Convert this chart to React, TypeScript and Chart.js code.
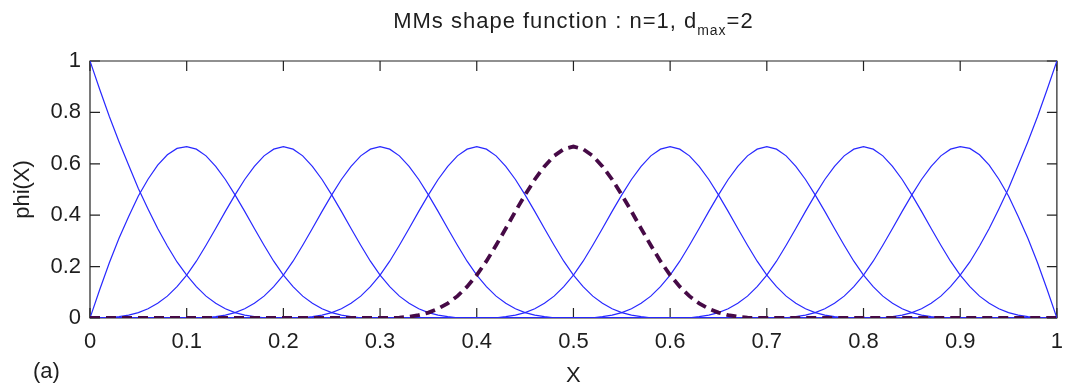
import { useEffect, useRef } from 'react';
import { Chart, registerables } from 'chart.js';

Chart.register(...registerables);

// Sample positions along X (step 0.01)
const xGrid = [
  0.0, 0.01, 0.02, 0.03, 0.04, 0.05, 0.06, 0.07, 0.08, 0.09,
  0.1, 0.11, 0.12, 0.13, 0.14, 0.15, 0.16, 0.17, 0.18, 0.19,
  0.2, 0.21, 0.22, 0.23, 0.24, 0.25, 0.26, 0.27, 0.28, 0.29,
  0.3, 0.31, 0.32, 0.33, 0.34, 0.35, 0.36, 0.37, 0.38, 0.39,
  0.4, 0.41, 0.42, 0.43, 0.44, 0.45, 0.46, 0.47, 0.48, 0.49,
  0.5, 0.51, 0.52, 0.53, 0.54, 0.55, 0.56, 0.57, 0.58, 0.59,
  0.6, 0.61, 0.62, 0.63, 0.64, 0.65, 0.66, 0.67, 0.68, 0.69,
  0.7, 0.71, 0.72, 0.73, 0.74, 0.75, 0.76, 0.77, 0.78, 0.79,
  0.8, 0.81, 0.82, 0.83, 0.84, 0.85, 0.86, 0.87, 0.88, 0.89,
  0.9, 0.91, 0.92, 0.93, 0.94, 0.95, 0.96, 0.97, 0.98, 0.99,
  1.0,
];

// Interior nodes (the one at 0.5 is drawn dashed)
const nodes = [0.1, 0.2, 0.3, 0.4, 0.5, 0.6, 0.7, 0.8, 0.9];
const dashedNode = 0.5;

// Shape, offsets -0.20 .. +0.20 from its node
const interiorProfile = [
  0, 0, 0.001, 0.005, 0.011, 0.021, 0.036, 0.057, 0.085, 0.122,
  0.167, 0.221, 0.283, 0.348, 0.415, 0.479, 0.539, 0.59, 0.631, 0.657,
  0.667,
  0.657, 0.631, 0.59, 0.539, 0.479, 0.415, 0.348, 0.283, 0.221, 0.167,
  0.122, 0.085, 0.057, 0.036, 0.021, 0.011, 0.005, 0.001, 0, 0,
];

// Outer half of the curve next to an edge, from the edge (X=0) to its node (X=0.1)
const edgeNeighbourOuter = [0, 0.11, 0.215, 0.31, 0.395, 0.475, 0.54, 0.595, 0.635, 0.66, 0.667];

// Edge curve, from the edge (X=0) inward to X=0.2
const edgeCurve = [
  1, 0.89, 0.784, 0.686, 0.594, 0.504, 0.424, 0.348, 0.28, 0.218,
  0.167, 0.122, 0.085, 0.057, 0.036, 0.021, 0.011, 0.005, 0.001, 0, 0,
];

const xTicks = [0, 0.1, 0.2, 0.3, 0.4, 0.5, 0.6, 0.7, 0.8, 0.9, 1];
const yTicks = [0, 0.2, 0.4, 0.6, 0.8, 1];

const titleMain = 'MMs shape function : n=1, d';
const titleSub = 'max';
const titleTail = '=2';
const panelLabel = '(a)';
const xLabel = 'X';
const yLabel = 'phi(X)';

const FONT = '"Liberation Sans", Arial, Helvetica, sans-serif';
const TEXT = '#1e1e1e';
const BLUE = 'rgb(40,40,255)';
const PURPLE = '#460a46';

function nodeCurve(node: number) {
  const c = Math.round(node * 100);
  return xGrid.map((x, i) => {
    let y = 0;
    const k = i - c;
    if (Math.abs(k) <= 20) y = interiorProfile[k + 20];
    if (c === 10 && i <= 10) y = edgeNeighbourOuter[i];
    if (c === 90 && i >= 90) y = edgeNeighbourOuter[100 - i];
    return { x, y };
  });
}

function edge(left: boolean) {
  return xGrid.map((x, i) => {
    const j = left ? i : 100 - i;
    return { x, y: j <= 20 ? edgeCurve[j] : 0 };
  });
}

const fmt = (v: number) => String(Number(v.toFixed(1)));

const framePlugin = {
  id: 'matlabFrame',
  beforeDatasetsDraw(chart: any) {
    const { ctx, chartArea: a, scales } = chart;
    const tl = 10;
    ctx.save();
    ctx.strokeStyle = '#222';
    ctx.lineWidth = 1.2;
    ctx.beginPath();
    ctx.rect(a.left, a.top, a.right - a.left, a.bottom - a.top);
    ctx.stroke();
    ctx.beginPath();
    for (const v of xTicks) {
      const px = scales.x.getPixelForValue(v);
      ctx.moveTo(px, a.bottom);
      ctx.lineTo(px, a.bottom - tl);
      ctx.moveTo(px, a.top);
      ctx.lineTo(px, a.top + tl);
    }
    for (const v of yTicks) {
      const py = scales.y.getPixelForValue(v);
      ctx.moveTo(a.left, py);
      ctx.lineTo(a.left + tl, py);
      ctx.moveTo(a.right, py);
      ctx.lineTo(a.right - tl, py);
    }
    ctx.stroke();
    ctx.restore();
  },
  afterDraw(chart: any) {
    const { ctx, chartArea: a } = chart;
    ctx.save();
    ctx.fillStyle = TEXT;
    ctx.textBaseline = 'alphabetic';
    ctx.textAlign = 'left';
    const mainFont = `22px ${FONT}`;
    const subFont = `14px ${FONT}`;
    const spacing = '1px';
    ctx.letterSpacing = spacing;
    ctx.font = mainFont;
    const w1 = ctx.measureText(titleMain).width;
    const w3 = ctx.measureText(titleTail).width;
    ctx.font = subFont;
    const w2 = ctx.measureText(titleSub).width;
    const total = w1 + w2 + w3;
    const cx = (a.left + a.right) / 2;
    let x = cx - total / 2;
    const base = 28;
    ctx.font = mainFont;
    ctx.fillText(titleMain, x, base);
    x += w1;
    ctx.font = subFont;
    ctx.fillText(titleSub, x, base + 7);
    x += w2;
    ctx.font = mainFont;
    ctx.fillText(titleTail, x, base);
    ctx.letterSpacing = '0px';
    ctx.font = `22px ${FONT}`;
    ctx.textBaseline = 'middle';
    ctx.fillText(panelLabel, 33, 372);
    ctx.restore();
  },
};

export default function App() {
  const ref = useRef<HTMLCanvasElement>(null);
  useEffect(() => {
    const canvas = ref.current!;
    const datasets: any[] = [];
    datasets.push({
      data: nodeCurve(dashedNode),
      borderColor: PURPLE,
      borderWidth: 3.8,
      borderDash: [10, 6],
      pointRadius: 0,
      tension: 0,
      order: 0,
    });
    const solid = { borderColor: BLUE, borderWidth: 1.2, pointRadius: 0, order: 1 };
    datasets.push({ ...solid, data: edge(true) });
    for (const n of nodes) {
      if (n === dashedNode) continue;
      datasets.push({ ...solid, data: nodeCurve(n) });
    }
    datasets.push({ ...solid, data: edge(false) });

    const chart = new Chart(canvas, {
      type: 'line',
      data: { datasets },
      options: {
        responsive: false,
        animation: false,
        events: [],
        layout: { padding: { left: 0, right: 7, top: 61, bottom: 0 } },
        plugins: {
          legend: { display: false },
          tooltip: { enabled: false },
          title: { display: false },
        },
        scales: {
          x: {
            type: 'linear',
            min: 0,
            max: 1,
            afterBuildTicks: (s: any) => {
              s.ticks = xTicks.map((v) => ({ value: v }));
            },
            afterFit: (s: any) => {
              s.height = 69;
            },
            grid: { display: false, drawTicks: false },
            border: { display: false },
            ticks: {
              padding: 11,
              color: TEXT,
              autoSkip: false,
              maxRotation: 0,
              font: { family: FONT, size: 22 },
              callback: (v: any) => fmt(Number(v)),
            },
            title: {
              display: true,
              text: xLabel,
              color: TEXT,
              font: { family: FONT, size: 22, lineHeight: 1 },
              padding: { top: 0, bottom: 0 },
            },
          },
          y: {
            type: 'linear',
            min: 0,
            max: 1,
            afterBuildTicks: (s: any) => {
              s.ticks = yTicks.map((v) => ({ value: v }));
            },
            afterFit: (s: any) => {
              s.width = 90;
            },
            grid: { display: false, drawTicks: false },
            border: { display: false },
            ticks: {
              padding: 9,
              color: TEXT,
              font: { family: FONT, size: 22 },
              callback: (v: any) => fmt(Number(v)),
            },
            title: {
              display: true,
              text: yLabel,
              color: TEXT,
              font: { family: FONT, size: 22, lineHeight: 1.2 },
              padding: { top: 10, bottom: 0 },
            },
          },
        },
      },
      plugins: [framePlugin],
    });
    return () => chart.destroy();
  }, []);
  return (
    <div style={{ position: 'absolute', left: 0, top: 0, width: 1074, height: 387, background: '#fff' }}>
      <canvas ref={ref} width={1074} height={387} style={{ display: 'block' }} />
    </div>
  );
}
